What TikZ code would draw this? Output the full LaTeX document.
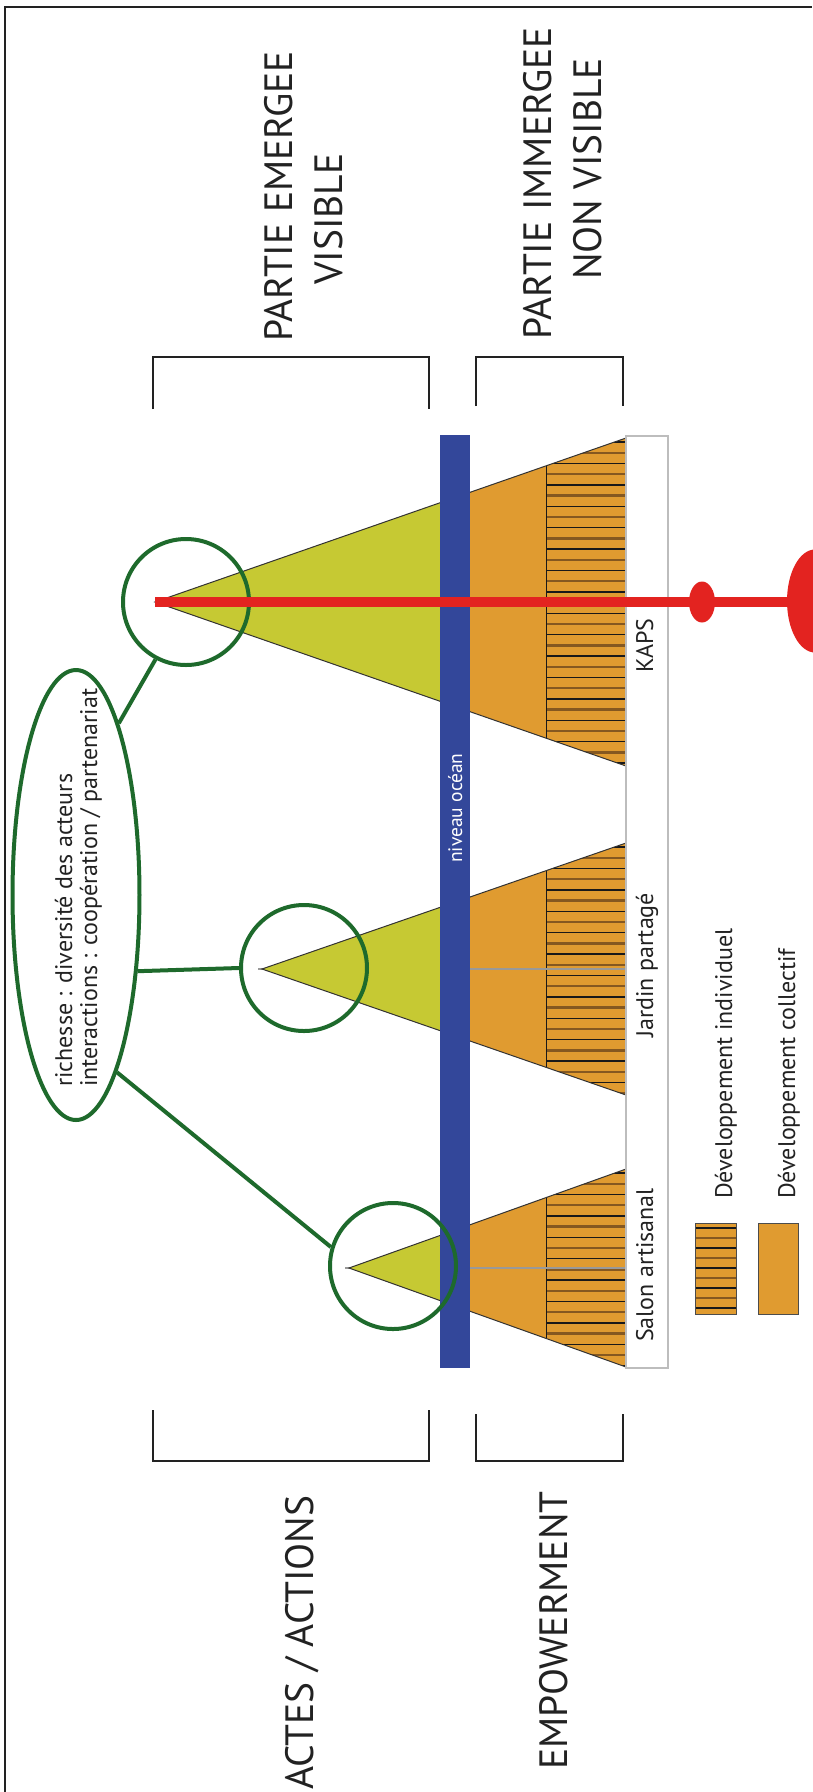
\documentclass[tikz,border=0pt]{standalone}
\usepackage{fontspec}
\setmainfont{PT Sans}
\usetikzlibrary{shapes.geometric}
\definecolor{yellowC}{HTML}{C6C933}
\definecolor{orangeC}{HTML}{E09B30}
\definecolor{blueC}{HTML}{33479A}
\definecolor{greenC}{HTML}{1E6A2C}
\definecolor{redC}{HTML}{E32320}
\definecolor{brownC}{HTML}{855820}
\definecolor{inkC}{HTML}{222222}
\definecolor{stripC}{HTML}{BDBDBD}
\tikzset{
  biglbl/.style={rotate=90, anchor=base west, inner sep=0pt, text=inkC, font=\fontsize{39.5}{47}\selectfont},
  lbl/.style={rotate=90, anchor=base west, inner sep=0pt, text=inkC, font=\fontsize{24}{26}\selectfont},
  bracket/.style={line width=2pt, draw=inkC},
  gcirc/.style={circle, draw=greenC, line width=4pt, minimum size=126pt, inner sep=0pt},
  gell/.style={ellipse, draw=greenC, line width=4pt, minimum width=127pt, minimum height=450pt, inner sep=0pt},
  gline/.style={draw=greenC, line width=4pt},
  edge/.style={draw=black!80, line width=1pt},
  grayln/.style={draw=black!40, line width=2.5pt},
  hatchA/.style={draw=black!90, line width=1.4pt},
  hatchB/.style={draw=brownC, line width=2.4pt},
}
\newcommand\drawpyr[5]{%
  % #1 apex x, #2 apex y, #3 base top y, #4 base bottom y, #5 draw gray line (1/0)
  \fill[orangeC] (#1,#2) -- (626,#3) -- (626,#4) -- cycle;
  \begin{scope}
    \clip (#1,#2) -- (626,#3) -- (626,#4) -- cycle;
    \clip (546,#3) rectangle (626,#4);
    \foreach \k in {0,...,32} {
      \pgfmathsetmacro\yy{#3+4+10.7*\k}
      \ifodd\k
        \draw[hatchB] (540,\yy) -- (630,\yy);
      \else
        \draw[hatchA] (540,\yy) -- (630,\yy);
      \fi
    }
    \draw[hatchA] (546,#3) -- (546,#4);
  \end{scope}
  \ifnum#5=1
    \draw[grayln] (#1-4,#2) -- (626,#2);
  \fi
  \begin{scope}
    \clip (0,0) rectangle (440,1792);
    \fill[yellowC] (#1,#2) -- (626,#3) -- (626,#4) -- cycle;
  \end{scope}
  \draw[edge] (626,#3) -- (#1,#2) -- (626,#4);
}
\begin{document}
\begin{tikzpicture}[x=1pt,y=-1pt]
\useasboundingbox (0,0) rectangle (812,1792);
\fill[white] (0,0) rectangle (812,1792);
% frame
\draw[line width=2pt, draw=inkC] (5,1792) -- (5,7) -- (812,7);

% top labels and brackets
\node[biglbl] (emerge1) at (292,342) {PARTIE EMERGEE};
\node[biglbl] (emerge2) at (342,285) {VISIBLE};
\node[biglbl] (immerge1) at (551,340) {PARTIE IMMERGEE};
\node[biglbl] (immerge2) at (601,280) {NON VISIBLE};
\draw[bracket] (153,409) -- (153,357) -- (429,357) -- (429,409);
\draw[bracket] (476,406) -- (476,357) -- (623,357) -- (623,406);

% bottom labels and brackets
\node[biglbl] (actes) at (313,1790) {ACTES / ACTIONS};
\node[biglbl] (empow) at (567,1770) {EMPOWERMENT};
\draw[bracket] (153,1410) -- (153,1461) -- (429,1461) -- (429,1410);
\draw[bracket] (476,1414) -- (476,1461) -- (623,1461) -- (623,1414);

% pyramids
\drawpyr{155}{602}{438}{766}{0}
\drawpyr{262}{969}{843}{1095}{1}
\drawpyr{349}{1268}{1169}{1367}{1}

% label strip
\draw[draw=stripC, line width=1.5pt, fill=white] (626,436) rectangle (668,1368);
\node[lbl] (kaps) at (653,673) {KAPS};
\node[lbl] (jardin) at (653,1038) {Jardin partagé};
\node[lbl] (salon) at (653,1342) {Salon artisanal};

% ocean level
\fill[blueC] (440,435) rectangle (470,1368);
\node[lbl, text=white, font=\fontsize{19.5}{22}\selectfont] (ocean) at (462,863) {niveau océan};

% legend
\fill[orangeC] (695,1223) rectangle (736,1314);
\begin{scope}
  \clip (695,1223) rectangle (736,1314);
  \foreach \k in {0,...,9} {
    \pgfmathsetmacro\yy{1228+10*\k}
    \ifodd\k
      \draw[hatchB] (690,\yy) -- (740,\yy);
    \else
      \draw[hatchA] (690,\yy) -- (740,\yy);
    \fi
  }
\end{scope}
\draw[draw=black!70, line width=1pt] (695,1223) rectangle (736,1314);
\fill[orangeC] (758,1223) rectangle (798,1314);
\draw[draw=black!70, line width=1pt] (758,1223) rectangle (798,1314);
\node[lbl] (legind) at (732,1199) {Développement individuel};
\node[lbl] (legcol) at (795,1199) {Développement collectif};

% green circles and ellipse
\node[gcirc] (kc) at (186,602) {};
\node[gcirc] (jc) at (304,968) {};
\node[gcirc] (sc) at (393,1266) {};
\node[gell] (ge) at (76,895) {};
\node[lbl] (rich) at (72,1087) {richesse : diversité des acteurs};
\node[lbl] (inter) at (97,1087) {interactions : coopération / partenariat};
\draw[gline] (kc.242) -- (ge.76);
\draw[gline] (ge.-51) -- (jc.180);
\draw[gline] (ge.-77) -- (sc.163);

% red axis
\draw[draw=redC, line width=10pt] (155,602) -- (812,602);
\fill[redC] (702,602) ellipse [x radius=13, y radius=20.5];
\fill[redC] (815,601) ellipse [x radius=28, y radius=51.5];
\end{tikzpicture}
\end{document}
